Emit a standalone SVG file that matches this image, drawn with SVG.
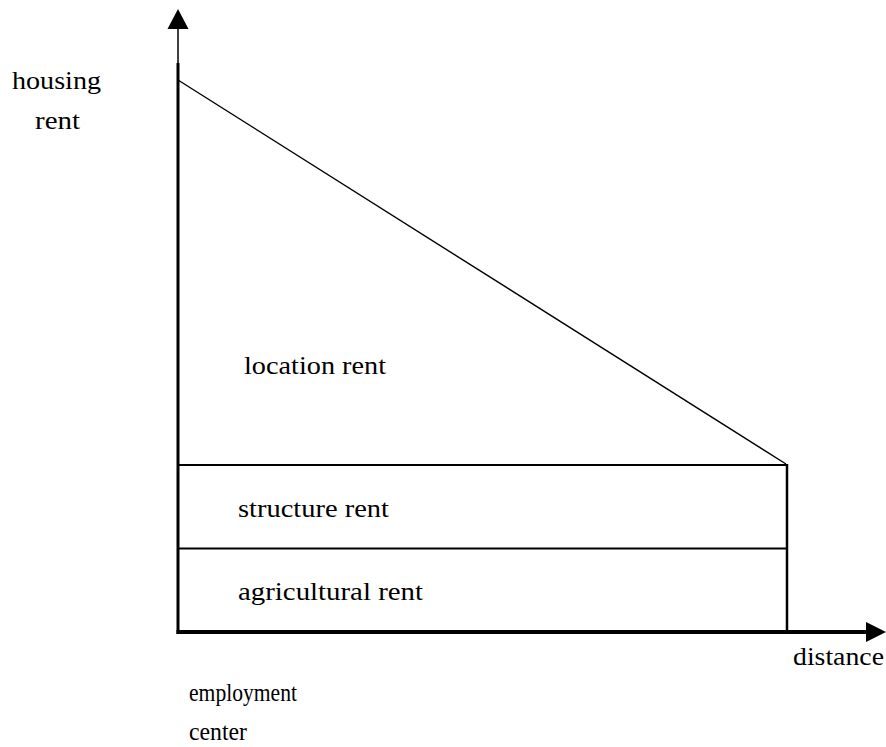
<svg xmlns="http://www.w3.org/2000/svg" width="886" height="747" viewBox="0 0 886 747">
<style>
text{font-family:"Liberation Serif","Times New Roman",serif;font-size:25px;fill:#000}
.ln{stroke:#000;fill:none}
</style>
<rect width="886" height="747" fill="#fff"/>
<g id="axes">
<line class="ln" x1="178" y1="28" x2="178" y2="64" stroke-width="1.5"/>
<line class="ln" x1="178" y1="63" x2="178" y2="634" stroke-width="3"/>
<polygon points="178,9 167.5,29 188.5,29" fill="#000"/>
<line class="ln" x1="176.5" y1="632" x2="870" y2="632" stroke-width="4"/>
<polygon points="886,632 866,622 866,642" fill="#000"/>
</g>
<g id="connectors">
<line class="ln" x1="178" y1="80" x2="786" y2="464" stroke-width="1.4"/>
<line class="ln" x1="178" y1="465" x2="788" y2="465" stroke-width="2"/>
<line class="ln" x1="178" y1="548.5" x2="788" y2="548.5" stroke-width="2"/>
<line class="ln" x1="787" y1="464" x2="787" y2="632" stroke-width="2.5"/>
</g>
<g id="labels">
<text x="12" y="89" textLength="89" lengthAdjust="spacingAndGlyphs">housing</text>
<text x="35" y="129" textLength="45" lengthAdjust="spacingAndGlyphs">rent</text>
<text x="244" y="374" textLength="142" lengthAdjust="spacingAndGlyphs">location rent</text>
<text x="238" y="517" textLength="151" lengthAdjust="spacingAndGlyphs">structure rent</text>
<text x="238" y="600" textLength="185" lengthAdjust="spacingAndGlyphs">agricultural rent</text>
<text x="793" y="665" textLength="91" lengthAdjust="spacingAndGlyphs">distance</text>
<text x="189" y="701" textLength="108" lengthAdjust="spacingAndGlyphs">employment</text>
<text x="189" y="740" textLength="58" lengthAdjust="spacingAndGlyphs">center</text>
</g>
</svg>
